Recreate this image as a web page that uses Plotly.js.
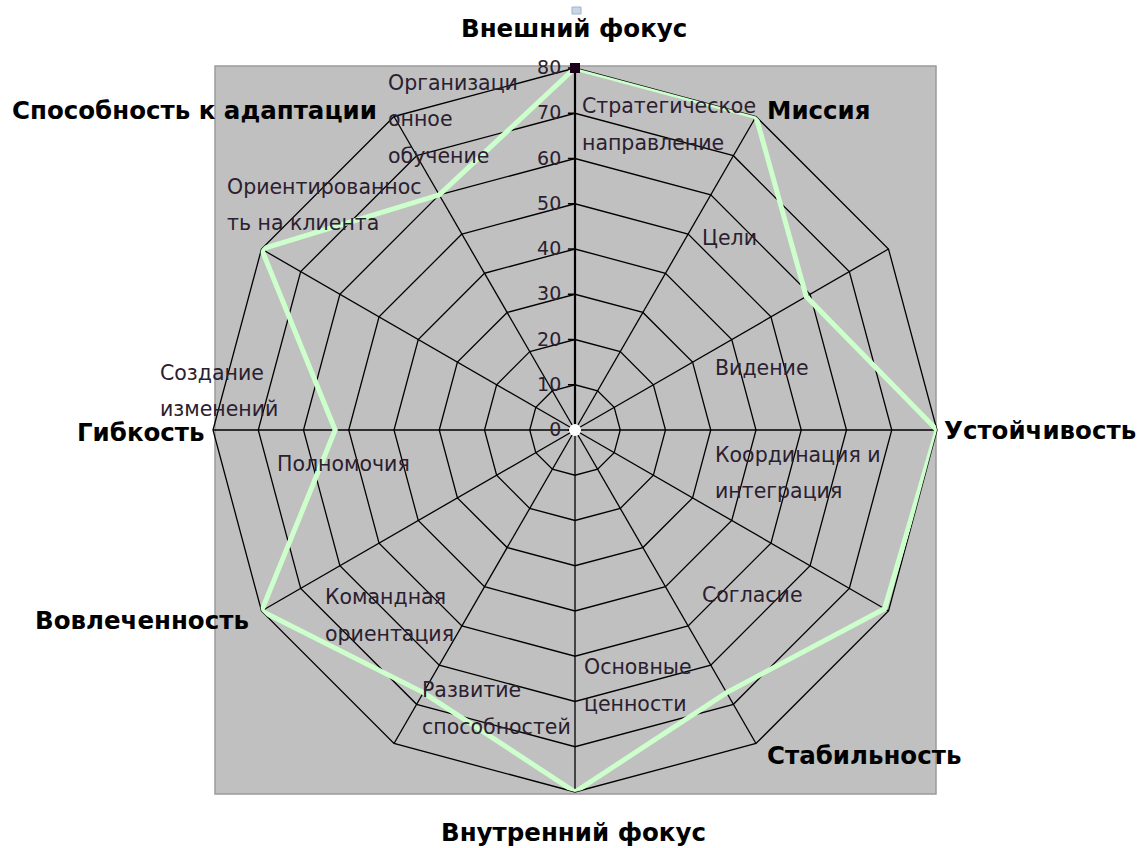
<!DOCTYPE html>
<html>
<head>
<meta charset="utf-8">
<script src="https://cdn.plot.ly/plotly-3.0.1.min.js"></script>
<style>html,body{margin:0;padding:0;background:#fff;}#chart{width:1139px;height:848px;}</style>
</head>
<body>
<div id="chart"></div>
<script>
// Denison indices, one per spoke, clockwise from the top
const categories = ["Стратегическое направление", "Цели", "Видение", "Координация и интеграция",
  "Согласие", "Основные ценности", "Развитие способностей", "Командная ориентация",
  "Полномочия", "Создание изменений", "Ориентированность на клиента", "Организационное обучение"];
// how each index label is broken into lines on the chart
const indexLabelLines = [["Стратегическое", "направление"], ["Цели"], ["Видение"], ["Координация и", "интеграция"],
  ["Согласие"], ["Основные", "ценности"], ["Развитие", "способностей"], ["Командная", "ориентация"],
  ["Полномочия"], ["Создание", "изменений"], ["Ориентированнос", "ть на клиента"], ["Организаци", "онное", "обучение"]];
const values = [80, 80, 59, 80, 79, 67, 80, 67, 80, 53, 80, 60];
const radialTicks = [0, 10, 20, 30, 40, 50, 60, 70, 80];
// bold outer labels
const outerLabels = ["Внешний фокус", "Миссия", "Устойчивость", "Стабильность",
  "Внутренний фокус", "Вовлеченность", "Гибкость", "Способность к адаптации"];

const W = 1139, H = 848;
const px = x => x / W, py = y => 1 - y / H;

// polar domain (pixels)
const polarLeft = 213, polarRight = 937, polarTop = 68, polarBottom = 792;
const cx = (polarLeft + polarRight) / 2, cy = (polarTop + polarBottom) / 2;

// layout positions (pixels) for labels
const indexLabelPos = [[580,106],[700,238],[713,368],[713,455],[700,595],[582,667],
  [420,690],[323,597],[275,464],[158,373],[225,187],[386,83]];
const lineGap = 36.5;
const outerLabelPos = [[574,28,"center"],[765,110,"left"],[942,430,"left"],[765,755,"left"],
  [573,832,"center"],[33,620,"left"],[75,432,"left"],[10,110,"left"]];

const annotations = [];
indexLabelLines.forEach((lines, i) => {
  lines.forEach((t, k) => {
    annotations.push({xref:'paper', yref:'paper', x: px(indexLabelPos[i][0]), y: py(indexLabelPos[i][1] + k*lineGap),
      xanchor:'left', yanchor:'middle', showarrow:false, text:t,
      font:{family:'DejaVu Sans', size:20.5, color:'#2a2030'}});
  });
});
outerLabels.forEach((t, i) => {
  annotations.push({xref:'paper', yref:'paper', x: px(outerLabelPos[i][0]), y: py(outerLabelPos[i][1]),
    xanchor: outerLabelPos[i][2], yanchor:'middle', showarrow:false, text:'<b>'+t+'</b>',
    font:{family:'DejaVu Sans', size:24.5, color:'#000'}});
});

const closedTheta = categories.concat([categories[0]]);
const traces = [
  {type:'scatterpolar', r: values.concat([values[0]]), theta: closedTheta, mode:'lines',
   line:{color:'#ccffcc', width:5}, hoverinfo:'r+theta', showlegend:false},
  {type:'scatterpolar', r:[values[0]], theta:[categories[0]], mode:'markers',
   marker:{symbol:'square', size:10, color:'#1a0018'}, showlegend:false}
];

const layout = {
  width: W, height: H,
  margin:{l:0, r:0, t:0, b:0},
  paper_bgcolor:'#ffffff',
  showlegend:false,
  polar:{
    domain:{x:[polarLeft/W, polarRight/W], y:[1-polarBottom/H, 1-polarTop/H]},
    bgcolor:'rgba(0,0,0,0)',
    gridshape:'linear',
    angularaxis:{type:'category', categoryarray: categories, direction:'clockwise', rotation:90,
      showticklabels:false, ticks:'', showline:true, linecolor:'#000', linewidth:1.3,
      showgrid:true, gridcolor:'#000', gridwidth:1.3, layer:'below traces'},
    radialaxis:{range:[0,80], angle:90, side:'counterclockwise', tickmode:'array', tickvals: radialTicks,
      ticktext: radialTicks.map(String), layer:'below traces',
      showline:true, linecolor:'#000', linewidth:2.2, ticks:'outside', ticklen:6, tickcolor:'#000', tickwidth:1.5,
      showgrid:true, gridcolor:'#000', gridwidth:1.3,
      tickfont:{family:'DejaVu Sans', size:19, color:'#2a2030'}, tickangle:90}
  },
  shapes:[
    {type:'rect', xref:'paper', yref:'paper', x0:px(215), x1:px(936), y0:py(794), y1:py(66),
     fillcolor:'#c0c0c0', line:{color:'#9a9a9a', width:1.5}, layer:'below'},
    {type:'rect', xref:'paper', yref:'paper', x0:px(572), x1:px(581), y0:py(14), y1:py(7),
     fillcolor:'#c9d6e6', line:{color:'#9fb4cc', width:1}, layer:'above'},
    {type:'circle', xref:'paper', yref:'paper', x0:px(cx-6), x1:px(cx+6), y0:py(cy+6), y1:py(cy-6),
     fillcolor:'#ffffff', line:{color:'#ffffff', width:0}, layer:'above'}
  ],
  annotations: annotations
};

Plotly.newPlot('chart', traces, layout, {displayModeBar:false, staticPlot:true});
</script>
</body>
</html>
